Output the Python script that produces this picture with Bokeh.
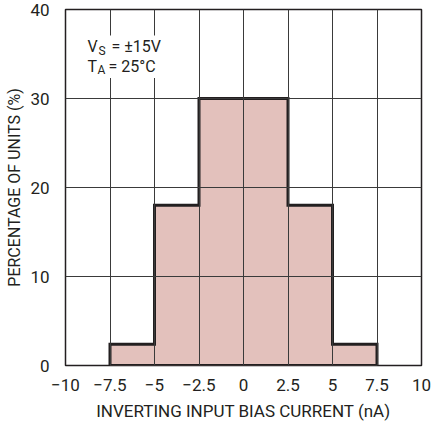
from bokeh.plotting import figure
from bokeh.models import FixedTicker, Label
from bokeh.embed import file_html
from bokeh.resources import INLINE

# Histogram of inverting input bias current
bin_left = [-7.5, -5.0, -2.5, 0.0, 2.5, 5.0]
bin_right = [-5.0, -2.5, 0.0, 2.5, 5.0, 7.5]
percent = [2.4, 18, 30, 30, 18, 2.4]

x_ticks = [-10, -7.5, -5, -2.5, 0, 2.5, 5, 7.5, 10]
x_tick_labels = ["\u221210", "\u22127.5", "\u22125", "\u22122.5", "0", "2.5", "5", "7.5", "10"]
y_ticks = [0, 10, 20, 30, 40]

FONT = "Roboto"
INK = "#231f20"

p = figure(width=433, height=427, x_range=(-10, 10), y_range=(0, 40),
           output_backend="svg", toolbar_location=None,
           min_border_left=65, min_border_right=12, min_border_top=9, min_border_bottom=62)
p.background_fill_color = "white"
p.border_fill_color = "white"
p.outline_line_color = INK
p.outline_line_width = 1.5

# bars under the grid, outline above
bars = p.quad(left=bin_left, right=bin_right, bottom=0, top=percent,
              fill_color="#e3c1bc", line_color=None)
bars.level = "underlay"

for g in (p.xgrid, p.ygrid):
    g.level = "glyph"
    g.grid_line_color = "#3a3a3a"
    g.grid_line_width = 1
    g.grid_line_alpha = 1
p.xgrid.ticker = FixedTicker(ticks=x_ticks)
p.ygrid.ticker = FixedTicker(ticks=y_ticks)

# step outline of the histogram
sx, sy = [bin_left[0]], [0]
for l, r, h in zip(bin_left, bin_right, percent):
    sx += [l, r]
    sy += [h, h]
sx += [bin_right[-1], bin_left[0]]
sy += [0, 0]
p.line(sx, sy, line_color=INK, line_width=3, line_join="miter")

p.xaxis.ticker = FixedTicker(ticks=x_ticks)
p.xaxis.major_label_overrides = {t: s for t, s in zip(x_ticks, x_tick_labels)}
p.yaxis.ticker = FixedTicker(ticks=y_ticks)
for ax in (p.xaxis, p.yaxis):
    ax.axis_line_color = None
    ax.major_tick_line_color = None
    ax.minor_tick_line_color = None
    ax.major_label_text_font = FONT
    ax.major_label_text_font_size = "17px"
    ax.major_label_text_color = INK
    ax.axis_label_text_font = FONT
    ax.axis_label_text_font_style = "normal"
    ax.axis_label_text_color = INK
p.xaxis.axis_label_text_font_size = "17px"
p.yaxis.axis_label_text_font_size = "16px"
p.xaxis.major_label_standoff = 7
p.yaxis.major_label_standoff = 10
p.xaxis.axis_label = "INVERTING INPUT BIAS CURRENT (nA)"
p.yaxis.axis_label = "PERCENTAGE OF UNITS (%)"
p.xaxis.axis_label_standoff = 7
p.yaxis.axis_label_standoff = 3

# conditions note with subscripts, on a white ground that hides the grid
def note(x, y, text, size, dx=0, dy=0):
    p.add_layout(Label(x=x, y=y, x_offset=dx, y_offset=dy, text=text,
                       text_font=FONT, text_font_size=size, text_color=INK,
                       text_baseline="alphabetic",
                       background_fill_color="white", padding=2))

nx, ny1, ny2 = -8.88, 35.8, 33.6
note(nx, ny1, "V", "16px")
note(nx, ny1, "S", "12px", dx=11, dy=-4)
note(nx, ny1, "= \u00b115V", "16px", dx=24)
note(nx, ny2, "T", "16px")
note(nx, ny2, "A", "12px", dx=10, dy=-4)
note(nx, ny2, "= 25\u00b0C", "16px", dx=21)

open("out.html", "w").write(file_html(p, INLINE))
